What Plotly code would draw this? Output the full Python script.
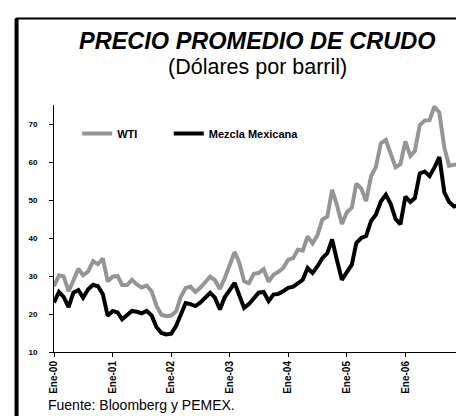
import pandas as pd
import plotly.graph_objects as go

# Monthly averages, Jan 2000 - Dec 2006 (USD per barrel)
months = pd.date_range("2000-01-01", periods=84, freq="MS")

wti = [
    27.3, 30.2, 29.9, 26.0, 28.8, 31.9, 30.2, 31.2, 33.9, 33.1, 34.6, 28.6,   # 2000
    29.8, 30.0, 27.6, 27.6, 29.0, 27.8, 27.0, 27.5, 26.0, 22.2, 19.8, 19.4,   # 2001
    19.6, 20.7, 24.4, 26.8, 27.2, 25.8, 26.9, 28.4, 29.8, 28.9, 26.6, 29.4,   # 2002
    32.9, 36.3, 33.6, 28.6, 28.1, 30.6, 30.8, 31.8, 28.5, 30.3, 31.1, 32.1,   # 2003
    34.3, 34.7, 36.9, 36.7, 40.4, 38.6, 40.7, 44.9, 45.6, 52.7, 48.5, 43.7,   # 2004
    46.8, 48.0, 54.3, 53.0, 49.7, 56.3, 58.7, 64.9, 65.8, 62.4, 58.6, 59.4,   # 2005
    65.4, 61.6, 62.9, 69.7, 70.9, 71.0, 74.6, 73.0, 63.8, 59.0, 59.2, 59.5,   # 2006
]

mezcla = [
    23.0, 25.8, 24.5, 21.8, 25.6, 26.3, 24.3, 26.5, 27.7, 27.3, 25.2, 19.5,   # 2000
    20.8, 20.4, 18.6, 19.6, 20.8, 20.6, 20.2, 20.8, 19.6, 16.6, 15.0, 14.6,   # 2001
    14.8, 16.9, 20.0, 22.9, 22.6, 22.1, 23.0, 24.2, 25.6, 24.3, 21.2, 24.4,   # 2002
    26.2, 28.2, 25.0, 21.6, 22.6, 24.3, 25.6, 25.8, 23.4, 25.1, 25.3, 26.0,   # 2003
    26.9, 27.2, 28.2, 29.0, 32.1, 30.8, 32.5, 34.7, 36.0, 39.6, 34.0, 29.0,   # 2004
    31.0, 33.0, 38.7, 40.0, 40.5, 44.5, 46.1, 49.6, 51.4, 49.0, 45.0, 43.6,   # 2005
    50.9, 49.5, 50.5, 57.0, 57.5, 56.3, 58.5, 61.3, 52.0, 49.5, 48.3, 48.7,   # 2006
]

year_ticks = pd.date_range("2000-01-01", periods=7, freq="YS")
year_labels = ["Ene-00", "Ene-01", "Ene-02", "Ene-03", "Ene-04", "Ene-05", "Ene-06"]
y_ticks = [10, 20, 30, 40, 50, 60, 70]

font = "Liberation Sans, Arial, sans-serif"

fig = go.Figure()
fig.add_trace(go.Scatter(x=months, y=wti, name="WTI", mode="lines", legend="legend",
                         line=dict(color="#959595", width=4)))
fig.add_trace(go.Scatter(x=months, y=mezcla, name="Mezcla Mexicana", mode="lines", legend="legend2",
                         line=dict(color="black", width=4)))

legend_style = dict(orientation="h", y=0.885, xanchor="left", yanchor="middle",
                    font=dict(family=font, size=11, color="black", weight="bold"),
                    bgcolor="rgba(0,0,0,0)")

fig.update_layout(
    width=464, height=416,
    margin=dict(l=46, r=11, t=97, b=72),
    paper_bgcolor="white", plot_bgcolor="white",
    showlegend=True,
    legend=dict(x=0.057, **legend_style),
    legend2=dict(x=0.282, **legend_style),
    xaxis=dict(range=["2000-01-01", "2006-12-14"], tickvals=year_ticks, ticktext=year_labels,
               tickangle=-90, ticks="outside", ticklen=4, tickcolor="black",
               showline=True, linecolor="black", linewidth=1, showgrid=False, zeroline=False,
               tickfont=dict(family=font, size=10, color="black", weight="bold")),
    yaxis=dict(range=[10, 75], tickvals=y_ticks, ticks="outside", ticklen=4, tickcolor="black",
               showline=True, linecolor="black", linewidth=1, showgrid=False, zeroline=False,
               ticklabelstandoff=10,
               tickfont=dict(family=font, size=8, color="black", weight="bold")),
    annotations=[
        dict(text="<b><i>PRECIO PROMEDIO DE CRUDO</i></b>", x=0.498, y=1.258, xref="paper", yref="paper",
             showarrow=False, xanchor="center", yanchor="middle",
             font=dict(family=font, size=23.5, color="black")),
        dict(text="(Dólares por barril)", x=0.50, y=1.154, xref="paper", yref="paper",
             showarrow=False, xanchor="center", yanchor="middle",
             font=dict(family=font, size=21.5, color="black")),
        dict(text="Fuente: Bloomberg y PEMEX.", x=-0.02, y=-0.215, xref="paper", yref="paper",
             showarrow=False, xanchor="left", yanchor="middle",
             font=dict(family=font, size=14, color="black")),
    ],
    shapes=[
        # outer frame of the box
        dict(type="rect", xref="paper", yref="paper", x0=-0.092, x1=1.022, y0=-0.3, y1=1.35,
             line=dict(color="black", width=2)),
        dict(type="line", xref="paper", yref="paper", x0=-0.092, x1=-0.092, y0=-0.3, y1=1.35,
             line=dict(color="black", width=4)),
    ],
)

fig.write_html("out.html")
